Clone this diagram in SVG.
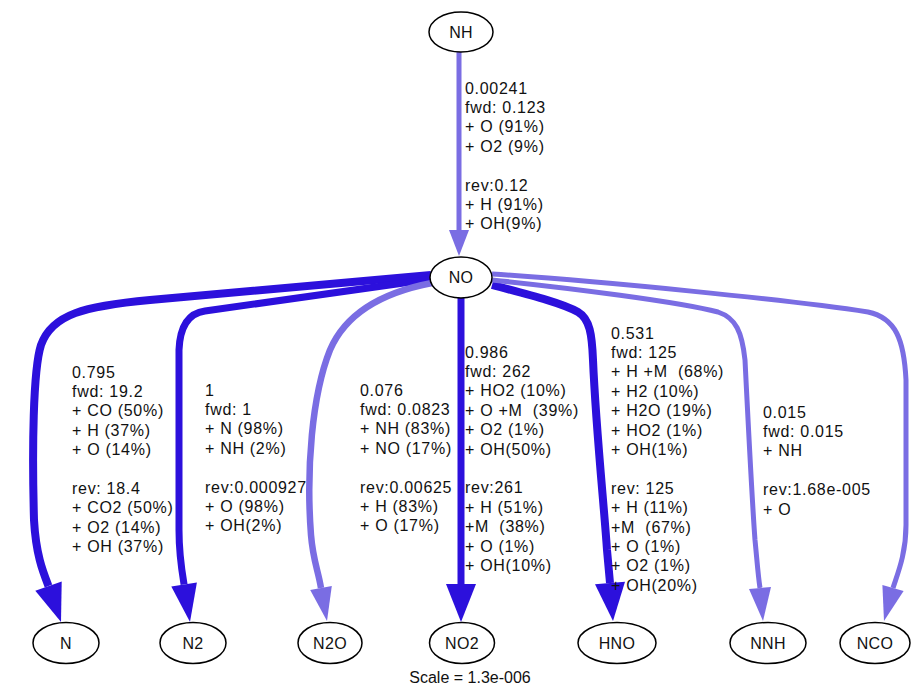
<svg xmlns="http://www.w3.org/2000/svg" width="912" height="690" viewBox="0 0 912 690">
<style>
.bg{fill:#ffffff}
.node ellipse{fill:#ffffff;stroke:#000000;stroke-width:1.5}
.node text{font-family:"Liberation Sans",Arial,sans-serif;font-size:16px;fill:#111111;text-anchor:middle;letter-spacing:0.3px}
.dk{stroke:#2c10dc;fill:none;stroke-linecap:butt}
.lt{stroke:#7a6de3;fill:none;stroke-linecap:butt}
.dkh{fill:#2c10dc;stroke:none}
.lth{fill:#7a6de3;stroke:none}
.lbl{font-family:"Liberation Sans",Arial,sans-serif;font-size:16px;fill:#111111;white-space:pre;letter-spacing:0.7px}
.scale{font-family:"Liberation Sans",Arial,sans-serif;font-size:16px;fill:#111111;text-anchor:middle}
</style>
<rect class="bg" x="0" y="0" width="912" height="690"/>
<g id="connectors">
  <g id="e_NH_NO">
    <path class="lt" stroke-width="5" d="M459 52 L459 231"/>
    <polygon class="lth" points="449,230 469,230 459,256"/>
  </g>
  <g id="e_NO_N">
    <path class="dk" stroke-width="8" d="M431 275 L150 300 C85 306 52 314 41 345 C33 370 32 450 34 520 C36 555 43 572 48.5 586"/>
    <polygon class="dkh" points="61.7,581.5 35.3,590.7 61,622"/>
  </g>
  <g id="e_NO_N2">
    <path class="dk" stroke-width="7" d="M432 279 L205 311 C190 313 180 325 179 350 L179 530 C179 555 182 572 184.1 584.5"/>
    <polygon class="dkh" points="196.9,582.5 171.3,586.5 190,622"/>
  </g>
  <g id="e_NO_N2O">
    <path class="lt" stroke-width="6.5" d="M432 283 C390 291 348 308 330 350 C312 395 306 470 311 535 C313 560 318 570 321 588"/>
    <polygon class="lth" points="331.8,586 310.2,590 327,621"/>
  </g>
  <g id="e_NO_NO2">
    <path class="dk" stroke-width="7" d="M461 298 L461 585"/>
    <polygon class="dkh" points="446,584 476,584 461,622"/>
  </g>
  <g id="e_NO_HNO">
    <path class="dk" stroke-width="8" d="M492 285 C530 295 562 303 578 312 C590 319 592 335 593 360 C596 430 604 505 607 550 L610 583"/>
    <polygon class="dkh" points="625,581.8 595,584.2 613,621"/>
  </g>
  <g id="e_NO_NNH">
    <path class="lt" stroke-width="5" d="M492 280 C570 288 680 302 718 312 C736 318 742 332 745 360 C748 420 752 500 755 540 C757 560 758 575 760 588"/>
    <polygon class="lth" points="771,587 749,589 763,621"/>
  </g>
  <g id="e_NO_NCO">
    <path class="lt" stroke-width="5" d="M492 274 C600 281 790 300 868 312 C896 318 904 340 906 380 L906 525 C906 555 897 575 893 588"/>
    <polygon class="lth" points="903.6,590.9 882.4,585.1 884,621"/>
  </g>
</g>
<g id="labels">
  <text class="lbl" x="465" y="93.5"><tspan x="465">0.00241</tspan><tspan x="465" dy="19.4">fwd: 0.123</tspan><tspan x="465" dy="19.4">+ O (91%)</tspan><tspan x="465" dy="19.4">+ O2 (9%)</tspan><tspan x="465" dy="38.8">rev:0.12</tspan><tspan x="465" dy="19.4">+ H (91%)</tspan><tspan x="465" dy="19.4">+ OH(9%)</tspan></text>
  <text class="lbl" x="72" y="377.5"><tspan x="72">0.795</tspan><tspan x="72" dy="19.4">fwd: 19.2</tspan><tspan x="72" dy="19.4">+ CO (50%)</tspan><tspan x="72" dy="19.4">+ H (37%)</tspan><tspan x="72" dy="19.4">+ O (14%)</tspan><tspan x="72" dy="38.8">rev: 18.4</tspan><tspan x="72" dy="19.4">+ CO2 (50%)</tspan><tspan x="72" dy="19.4">+ O2 (14%)</tspan><tspan x="72" dy="19.4">+ OH (37%)</tspan></text>
  <text class="lbl" x="205" y="395.5"><tspan x="205">1</tspan><tspan x="205" dy="19.4">fwd: 1</tspan><tspan x="205" dy="19.4">+ N (98%)</tspan><tspan x="205" dy="19.4">+ NH (2%)</tspan><tspan x="205" dy="38.8">rev:0.000927</tspan><tspan x="205" dy="19.4">+ O (98%)</tspan><tspan x="205" dy="19.4">+ OH(2%)</tspan></text>
  <text class="lbl" x="360" y="395.5"><tspan x="360">0.076</tspan><tspan x="360" dy="19.4">fwd: 0.0823</tspan><tspan x="360" dy="19.4">+ NH (83%)</tspan><tspan x="360" dy="19.4">+ NO (17%)</tspan><tspan x="360" dy="38.8">rev:0.00625</tspan><tspan x="360" dy="19.4">+ H (83%)</tspan><tspan x="360" dy="19.4">+ O (17%)</tspan></text>
  <text class="lbl" x="465" y="357.5"><tspan x="465">0.986</tspan><tspan x="465" dy="19.4">fwd: 262</tspan><tspan x="465" dy="19.4">+ HO2 (10%)</tspan><tspan x="465" dy="19.4">+ O +M  (39%)</tspan><tspan x="465" dy="19.4">+ O2 (1%)</tspan><tspan x="465" dy="19.4">+ OH(50%)</tspan><tspan x="465" dy="38.8">rev:261</tspan><tspan x="465" dy="19.4">+ H (51%)</tspan><tspan x="465" dy="19.4">+M  (38%)</tspan><tspan x="465" dy="19.4">+ O (1%)</tspan><tspan x="465" dy="19.4">+ OH(10%)</tspan></text>
  <text class="lbl" x="611" y="338.5"><tspan x="611">0.531</tspan><tspan x="611" dy="19.4">fwd: 125</tspan><tspan x="611" dy="19.4">+ H +M  (68%)</tspan><tspan x="611" dy="19.4">+ H2 (10%)</tspan><tspan x="611" dy="19.4">+ H2O (19%)</tspan><tspan x="611" dy="19.4">+ HO2 (1%)</tspan><tspan x="611" dy="19.4">+ OH(1%)</tspan><tspan x="611" dy="38.8">rev: 125</tspan><tspan x="611" dy="19.4">+ H (11%)</tspan><tspan x="611" dy="19.4">+M  (67%)</tspan><tspan x="611" dy="19.4">+ O (1%)</tspan><tspan x="611" dy="19.4">+ O2 (1%)</tspan><tspan x="611" dy="19.4">+ OH(20%)</tspan></text>
  <text class="lbl" x="763" y="417.5"><tspan x="763">0.015</tspan><tspan x="763" dy="19.4">fwd: 0.015</tspan><tspan x="763" dy="19.4">+ NH</tspan><tspan x="763" dy="38.8">rev:1.68e-005</tspan><tspan x="763" dy="19.4">+ O</tspan></text>
  <text class="scale" x="470" y="683">Scale = 1.3e-006</text>
</g>
<g id="node_NH" class="node"><ellipse cx="461" cy="32" rx="32" ry="20"/><text x="461" y="37.5">NH</text></g>
<g id="node_NO" class="node"><ellipse cx="461" cy="277.5" rx="31" ry="20.5"/><text x="461" y="283">NO</text></g>
<g id="node_N" class="node"><ellipse cx="66" cy="643" rx="33" ry="20.5"/><text x="66" y="648.5">N</text></g>
<g id="node_N2" class="node"><ellipse cx="193" cy="643" rx="33" ry="20.5"/><text x="193" y="648.5">N2</text></g>
<g id="node_N2O" class="node"><ellipse cx="330" cy="643" rx="32" ry="20.5"/><text x="330" y="648.5">N2O</text></g>
<g id="node_NO2" class="node"><ellipse cx="462" cy="643" rx="32.5" ry="20.5"/><text x="462" y="648.5">NO2</text></g>
<g id="node_HNO" class="node"><ellipse cx="617" cy="643" rx="39" ry="20.5"/><text x="617" y="648.5">HNO</text></g>
<g id="node_NNH" class="node"><ellipse cx="768" cy="643" rx="38" ry="20.5"/><text x="768" y="648.5">NNH</text></g>
<g id="node_NCO" class="node"><ellipse cx="875" cy="643" rx="35" ry="20.5"/><text x="875" y="648.5">NCO</text></g>
</svg>
